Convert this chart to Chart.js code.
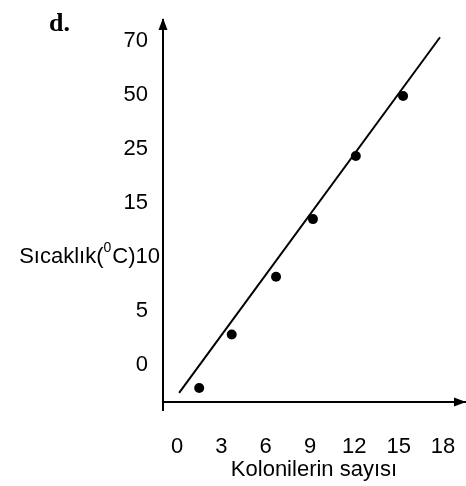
<!DOCTYPE html>
<html>
<head>
<meta charset="utf-8">
<script src="https://cdn.jsdelivr.net/npm/chart.js@4"></script>
<style>
    html, body { margin: 0; padding: 0; background: #fff; }
    #wrap { width: 466px; height: 486px; position: relative; }
</style>
</head>
<body>
<div id="wrap"><canvas id="chart"></canvas></div>
<script>
// y axis is not linear: the labels sit evenly spaced, so y values are kept in label-index units
const yTickLabels = ["0", "5", "10", "15", "25", "50", "70"];
const xTickValues = [0, 3, 6, 9, 12, 15, 18];

const colonies = [1.5, 3.7, 6.7, 9.2, 12.1, 15.3];
const tempIndex = [-0.43, 0.56, 1.63, 2.70, 3.87, 4.98];

const fitX = [0.14, 17.8];
const fitY = [-0.52, 6.07];

const FONT = "'Liberation Sans', Arial, sans-serif";
const FSIZE = 22;

const decor = {
    id: 'decor',
    afterDraw(chart) {
        const ctx = chart.ctx;
        const a = chart.chartArea;
        ctx.save();
        ctx.fillStyle = '#000';
        ctx.strokeStyle = '#000';
        ctx.lineWidth = 2;

        // y axis runs a little past the x axis
        ctx.beginPath();
        ctx.moveTo(a.left, a.bottom);
        ctx.lineTo(a.left, a.bottom + 9);
        ctx.stroke();

        // arrow heads
        ctx.beginPath();
        ctx.moveTo(a.left, a.top - 2);
        ctx.lineTo(a.left - 4.5, a.top + 10);
        ctx.lineTo(a.left + 4.5, a.top + 10);
        ctx.closePath();
        ctx.fill();

        ctx.beginPath();
        ctx.moveTo(a.right + 1, a.bottom);
        ctx.lineTo(a.right - 11, a.bottom - 4.5);
        ctx.lineTo(a.right - 11, a.bottom + 4.5);
        ctx.closePath();
        ctx.fill();

        // "Sıcaklık(0C)10" row, drawn as one piece like the original
        const yc = chart.scales.y.getPixelForValue(2);
        const big = FSIZE + "px " + FONT;
        const small = "14px " + FONT;
        ctx.textBaseline = 'middle';
        ctx.textAlign = 'left';
        ctx.font = big;
        const tail = "C)" + yTickLabels[2];
        const head = "Sıcaklık(";
        const wTail = ctx.measureText(tail).width;
        const wHead = ctx.measureText(head).width;
        ctx.font = small;
        const wSup = ctx.measureText("0").width + 1;
        let x = a.left - 3 - wTail - wSup - wHead;
        ctx.font = big;
        ctx.fillText(head, x, yc);
        x += wHead;
        ctx.font = small;
        ctx.fillText("0", x, yc - 9);
        x += wSup;
        ctx.font = big;
        ctx.fillText(tail, x, yc);

        // panel letter
        ctx.font = "bold 26px 'Liberation Serif', 'Times New Roman', serif";
        ctx.textBaseline = 'alphabetic';
        ctx.fillText("d.", 49, 31);
        ctx.restore();
    }
};

new Chart(document.getElementById('chart'), {
    type: 'scatter',
    data: {
        datasets: [
            {
                data: colonies.map((c, i) => ({ x: c, y: tempIndex[i] })),
                pointRadius: 5,
                pointHoverRadius: 5,
                backgroundColor: '#000',
                borderColor: '#000',
                borderWidth: 0
            },
            {
                data: fitX.map((v, i) => ({ x: v, y: fitY[i] })),
                showLine: true,
                pointRadius: 0,
                borderColor: '#000',
                borderWidth: 2
            }
        ]
    },
    options: {
        responsive: true,
        maintainAspectRatio: false,
        animation: false,
        layout: { autoPadding: false, padding: { top: 20, right: 1, left: 0, bottom: 0 } },
        plugins: {
            legend: { display: false },
            tooltip: { enabled: false }
        },
        scales: {
            x: {
                type: 'linear',
                min: -0.95,
                max: 19.49,
                afterBuildTicks: scale => { scale.ticks = xTickValues.map(v => ({ value: v })); },
                afterFit: scale => {
                    scale.height = 84;
                    scale.paddingLeft = 0;
                    scale.paddingRight = 0;
                },
                grid: { display: false, drawTicks: false },
                border: { display: true, color: '#000', width: 2 },
                ticks: {
                    color: '#000',
                    font: { family: FONT, size: FSIZE },
                    padding: 32,
                    maxRotation: 0
                },
                title: {
                    display: true,
                    text: 'Kolonilerin sayısı',
                    color: '#000',
                    font: { family: FONT, size: FSIZE },
                    padding: { top: 0, bottom: 3 }
                }
            },
            y: {
                type: 'linear',
                min: -0.69,
                max: 6.39,
                afterBuildTicks: scale => { scale.ticks = yTickLabels.map((_, i) => ({ value: i })); },
                afterFit: scale => {
                    scale.width = 163;
                    scale.paddingTop = 0;
                    scale.paddingBottom = 0;
                },
                grid: { display: false, drawTicks: false },
                border: { display: true, color: '#000', width: 2 },
                ticks: {
                    color: '#000',
                    font: { family: FONT, size: FSIZE },
                    padding: 15,
                    callback: v => (v === 2 ? '' : yTickLabels[v])
                }
            }
        }
    },
    plugins: [decor]
});
</script>
</body>
</html>
